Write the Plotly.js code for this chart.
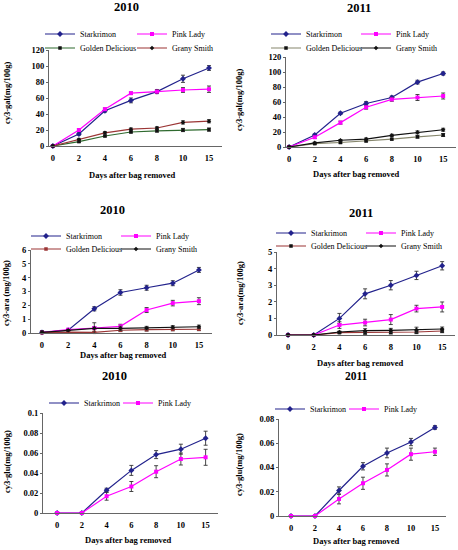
<!DOCTYPE html>
<html>
<head>
<meta charset="utf-8">
<script src="https://cdn.plot.ly/plotly-3.0.1.min.js"></script>
<style>html,body{margin:0;padding:0;background:#fff;}#chart{width:458px;height:550px;}</style>
</head>
<body>
<div id="chart"></div>
<script>
// ---------- data ----------
const days = ['0', '2', '4', '6', '8', '10', '15'];
const cultivars = ['Starkrimon', 'Pink Lady', 'Golden Delicious', 'Grany Smith'];

// cy3-gal 2010
const galStark2010 = [0, 15, 44, 57, 68, 84, 97.5];
const galPink2010 = [0, 20, 46, 66, 68, 70, 71];
const galGolden2010 = [0, 5.5, 12.5, 17.5, 19, 20, 20.5];
const galGrany2010 = [0, 8, 16.5, 21, 22.5, 29.5, 31];
const galStark2010Err = [1, 1.5, 1.5, 3, 2, 4.5, 3];
const galPink2010Err = [0.5, 1.5, 1.5, 1.5, 2.5, 3, 4];
const galGolden2010Err = [0.5, 1, 1, 1, 1.5, 2, 2];
const galGrany2010Err = [0.5, 1.5, 1.5, 1.5, 1.5, 2, 2];

// cy3-gal 2011
const galStark2011 = [0, 16, 45, 58, 66, 86.5, 98];
const galPink2011 = [0, 13, 32.5, 53, 63.5, 66, 68];
const galGolden2011 = [0, 4.5, 6, 8, 10.5, 13.5, 16];
const galGrany2011 = [0, 5.5, 9, 10.5, 15.5, 19.5, 23];
const galStark2011Err = [0.5, 1.5, 1.5, 2.5, 2, 2.5, 2];
const galPink2011Err = [0.5, 1.5, 2, 2.5, 2.5, 4, 4];
const galGolden2011Err = [0.5, 1, 1, 1, 1, 1.5, 2];
const galGrany2011Err = [0.5, 1, 1, 1.5, 1.5, 2, 2];

// cy3-ara 2010
const araStark2010 = [0.05, 0.2, 1.75, 2.93, 3.27, 3.6, 4.56];
const araPink2010 = [0.05, 0.24, 0.36, 0.48, 1.66, 2.16, 2.3];
const araGolden2010 = [0.02, 0.07, 0.05, 0.2, 0.24, 0.26, 0.27];
const araGrany2010 = [0.05, 0.2, 0.34, 0.34, 0.36, 0.41, 0.45];
const araStark2010Err = [0.1, 0.05, 0.15, 0.2, 0.18, 0.18, 0.18];
const araPink2010Err = [0.1, 0.05, 0.1, 0.15, 0.18, 0.2, 0.25];
const araGolden2010Err = [0.1, 0.05, 0.05, 0.1, 0.1, 0.1, 0.1];
const araGrany2010Err = [0.1, 0.05, 0.4, 0.15, 0.12, 0.12, 0.12];

// cy3-ara 2011
const araStark2011 = [0, 0, 1.0, 2.48, 3.0, 3.59, 4.17];
const araPink2011 = [0, 0, 0.6, 0.75, 0.93, 1.59, 1.69];
const araGolden2011 = [0, 0, 0.14, 0.14, 0.16, 0.18, 0.24];
const araGrany2011 = [0, 0, 0.18, 0.26, 0.28, 0.32, 0.36];
const araStark2011Err = [0, 0, 0.3, 0.3, 0.28, 0.25, 0.25];
const araPink2011Err = [0, 0, 0.2, 0.2, 0.3, 0.2, 0.3];
const araGolden2011Err = [0, 0, 0.05, 0.1, 0.1, 0.1, 0.1];
const araGrany2011Err = [0, 0, 0.05, 0.12, 0.12, 0.15, 0.12];

// cy3-glu 2010
const gluStark2010 = [0, 0, 0.0228, 0.0426, 0.0584, 0.0638, 0.0748];
const gluPink2010 = [0, 0, 0.0168, 0.0265, 0.0413, 0.054, 0.0557];
const gluStark2010Err = [0, 0, 0.002, 0.005, 0.004, 0.005, 0.007];
const gluPink2010Err = [0.001, 0.001, 0.004, 0.005, 0.006, 0.006, 0.008];

// cy3-glu 2011
const gluStark2011 = [0, 0, 0.021, 0.041, 0.052, 0.061, 0.073];
const gluPink2011 = [0, 0, 0.014, 0.027, 0.038, 0.051, 0.053];
const gluStark2011Err = [0, 0, 0.003, 0.003, 0.004, 0.003, 0.0015];
const gluPink2011Err = [0, 0, 0.004, 0.005, 0.005, 0.005, 0.003];

// ---------- layout helpers ----------
const W = 458, H = 550;
const FONT = "'Liberation Serif', 'Times New Roman', serif";
const fx = p => p / W;
const fy = p => 1 - p / H;

const C = {
  navy: '#22228c', magenta: '#ff00ff', green: '#2f6a2f', brick: '#9b3535',
  olive: '#86866c', black: '#111111'
};

function tr(name, y, err, xa, ya, leg, lineColor, markerColor, symbol, size) {
  return {
    type: 'scatter', mode: 'lines+markers', name: name,
    x: days, y: y, xaxis: xa, yaxis: ya, legend: leg, cliponaxis: false,
    line: {color: lineColor, width: 1.2},
    marker: {color: markerColor, symbol: symbol, size: size},
    error_y: {type: 'data', array: err, visible: true, color: '#333', thickness: 0.9, width: 2}
  };
}

const traces = [
  // panel 1
  tr(cultivars[0], galStark2010, galStark2010Err, 'x', 'y', 'legend', C.navy, C.navy, 'diamond', 4.5),
  tr(cultivars[1], galPink2010, galPink2010Err, 'x', 'y', 'legend', C.magenta, C.magenta, 'square', 4),
  tr(cultivars[2], galGolden2010, galGolden2010Err, 'x', 'y', 'legend2', C.green, C.black, 'square', 3.5),
  tr(cultivars[3], galGrany2010, galGrany2010Err, 'x', 'y', 'legend2', C.brick, C.black, 'diamond', 3.5),
  // panel 2
  tr(cultivars[0], galStark2011, galStark2011Err, 'x2', 'y2', 'legend3', C.navy, C.navy, 'diamond', 4.5),
  tr(cultivars[1], galPink2011, galPink2011Err, 'x2', 'y2', 'legend3', C.magenta, C.magenta, 'square', 4),
  tr(cultivars[2], galGolden2011, galGolden2011Err, 'x2', 'y2', 'legend4', C.olive, C.black, 'square', 3.5),
  tr(cultivars[3], galGrany2011, galGrany2011Err, 'x2', 'y2', 'legend4', C.black, C.black, 'diamond', 3.5),
  // panel 3
  tr(cultivars[0], araStark2010, araStark2010Err, 'x3', 'y3', 'legend5', C.navy, C.navy, 'diamond', 4.5),
  tr(cultivars[1], araPink2010, araPink2010Err, 'x3', 'y3', 'legend5', C.magenta, C.magenta, 'square', 4),
  tr(cultivars[2], araGolden2010, araGolden2010Err, 'x3', 'y3', 'legend6', C.brick, C.brick, 'square', 3.5),
  tr(cultivars[3], araGrany2010, araGrany2010Err, 'x3', 'y3', 'legend6', C.black, C.black, 'diamond', 3.5),
  // panel 4
  tr(cultivars[0], araStark2011, araStark2011Err, 'x4', 'y4', 'legend7', C.navy, C.navy, 'diamond', 4.5),
  tr(cultivars[1], araPink2011, araPink2011Err, 'x4', 'y4', 'legend7', C.magenta, C.magenta, 'square', 4),
  tr(cultivars[2], araGolden2011, araGolden2011Err, 'x4', 'y4', 'legend8', C.brick, C.black, 'square', 3.5),
  tr(cultivars[3], araGrany2011, araGrany2011Err, 'x4', 'y4', 'legend8', C.black, C.black, 'diamond', 3.5),
  // panel 5
  tr(cultivars[0], gluStark2010, gluStark2010Err, 'x5', 'y5', 'legend9', C.navy, C.navy, 'diamond', 4.5),
  tr(cultivars[1], gluPink2010, gluPink2010Err, 'x5', 'y5', 'legend9', C.magenta, C.magenta, 'square', 4),
  // panel 6
  tr(cultivars[0], gluStark2011, gluStark2011Err, 'x6', 'y6', 'legend10', C.navy, C.navy, 'diamond', 4.5),
  tr(cultivars[1], gluPink2011, gluPink2011Err, 'x6', 'y6', 'legend10', C.magenta, C.magenta, 'square', 4)
];

const tickFont = {family: FONT, size: 8.5, color: '#000', weight: 'bold'};

function xAxis(left, right, r0, r1, anchor) {
  return {
    type: 'category', domain: [fx(left), fx(right)], range: [r0, r1], anchor: anchor,
    showline: true, linecolor: '#666', linewidth: 1, ticks: '', showgrid: false, zeroline: false,
    tickfont: tickFont, ticklabelstandoff: 4, fixedrange: true
  };
}
function yAxis(top, bottom, max, dtick, anchor) {
  return {
    domain: [fy(bottom), fy(top)], range: [0, max], dtick: dtick, anchor: anchor,
    showline: true, linecolor: '#666', linewidth: 1, ticks: 'outside', ticklen: 2, tickcolor: '#666',
    showgrid: false, zeroline: false, tickfont: tickFont, fixedrange: true
  };
}
function legendAt(textX, rowY, spacing) {
  return {
    x: fx(textX - 40), xanchor: 'left', y: fy(rowY), yanchor: 'middle',
    orientation: 'h', entrywidth: spacing - 45, entrywidthmode: 'pixels',
    bgcolor: 'rgba(0,0,0,0)', borderwidth: 0,
    font: {family: FONT, size: 8, color: '#000'}, itemclick: false, itemdoubleclick: false
  };
}
function ann(text, x, y, size, angle) {
  return {
    text: text, x: fx(x), y: fy(y), xref: 'paper', yref: 'paper', showarrow: false,
    xanchor: 'center', yanchor: 'middle', textangle: angle || 0,
    font: {family: FONT, size: size, color: '#000', weight: 'bold'}
  };
}

const xTitle = 'Days after bag removed';
const layout = {
  width: W, height: H, margin: {l: 0, r: 0, t: 0, b: 0},
  paper_bgcolor: '#fff', plot_bgcolor: '#fff',
  xaxis: xAxis(49, 222, -0.15, 6.5, 'y'),
  yaxis: yAxis(50, 146, 120, 20, 'x'),
  xaxis2: xAxis(286, 456, -0.12, 6.5, 'y2'),
  yaxis2: yAxis(57, 147, 120, 20, 'x2'),
  xaxis3: xAxis(31, 212, -0.42, 6.5, 'y3'),
  yaxis3: yAxis(250, 333, 6, 1, 'x3'),
  xaxis4: xAxis(277, 455, -0.43, 6.5, 'y4'),
  yaxis4: yAxis(252, 335, 5, 1, 'x4'),
  xaxis5: xAxis(43, 218, -0.57, 6.5, 'y5'),
  yaxis5: yAxis(413, 513, 0.1, 0.02, 'x5'),
  xaxis6: xAxis(279, 446, -0.5, 6.46, 'y6'),
  yaxis6: yAxis(419, 516, 0.08, 0.02, 'x6'),
  legend: legendAt(80, 34, 92),
  legend2: legendAt(80, 48, 92),
  legend3: legendAt(306, 34, 90),
  legend4: legendAt(306, 48, 90),
  legend5: legendAt(66, 236, 90),
  legend6: legendAt(66, 249, 90),
  legend7: legendAt(311, 233, 90),
  legend8: legendAt(311, 246, 90),
  legend9: legendAt(84, 403, 74),
  legend10: legendAt(310, 409, 74),
  annotations: [
    ann('2010', 127, 7, 12.5), ann('2011', 359, 8, 12.5),
    ann('2010', 112, 210, 12.5), ann('2011', 361, 213, 12.5),
    ann('2010', 115, 376, 12.5), ann('2011', 356, 376, 11.5),
    ann(xTitle, 132, 175, 8.5), ann(xTitle, 356, 174, 8.5),
    ann(xTitle, 123, 355, 8.5), ann(xTitle, 360, 363, 8.5),
    ann(xTitle, 128, 540, 8.5), ann(xTitle, 356, 541, 8.5),
    ann('cy3-gal(mg/100g)', 7, 93, 8.5, -90), ann('cy3-gal(mg/100g)', 239, 100, 8.5, -90),
    ann('cy3-ara (mg/100g)', 6, 293, 8.5, -90), ann('cy3-ara(mg/100g)', 240, 293, 8.5, -90),
    ann('cy3-glu(mg/100g)', 7, 462, 8.5, -90), ann('cy3-glu(mg/100g)', 239, 465, 8.5, -90)
  ]
};

Plotly.newPlot('chart', traces, layout, {displayModeBar: false, staticPlot: true});
</script>
</body>
</html>
